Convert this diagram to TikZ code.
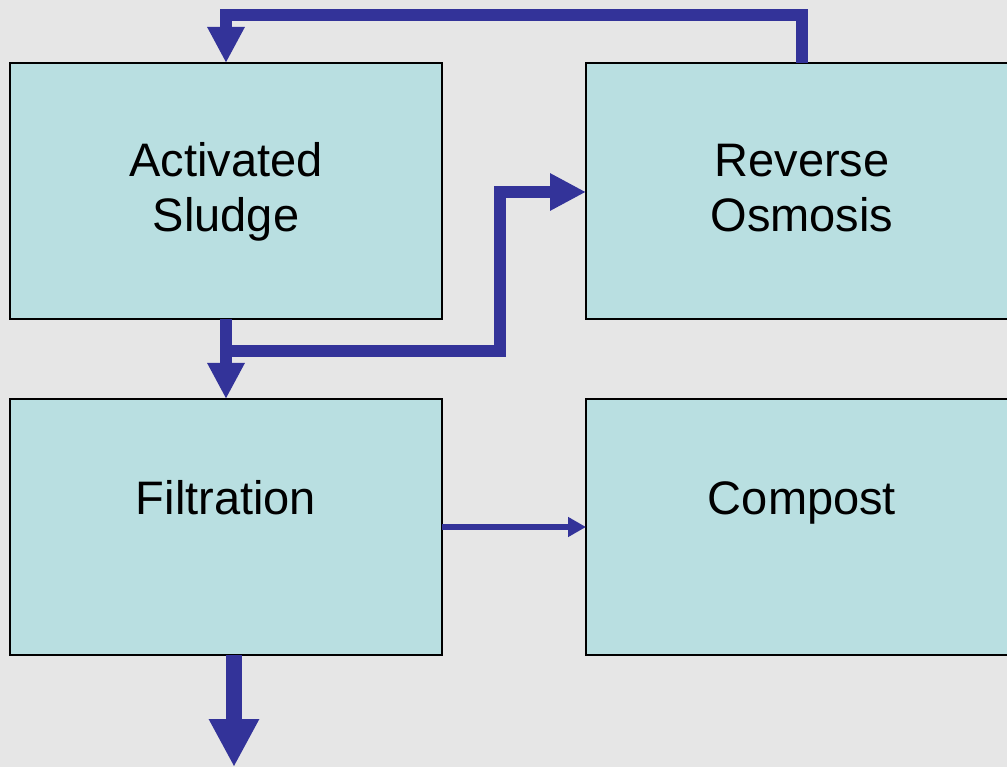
\documentclass[tikz,border=0pt]{standalone}
\usepackage{fontspec}
\setmainfont{Liberation Sans}
\usetikzlibrary{arrows.meta}
\definecolor{bg}{HTML}{E6E6E6}
\definecolor{boxfill}{HTML}{B9DFE1}
\definecolor{flow}{HTML}{333399}
\begin{document}
\begin{tikzpicture}[x=1pt,y=-1pt,
  box/.style={draw=black,line width=1.5pt,fill=boxfill,minimum width=432pt,minimum height=256pt,inner sep=0pt,outer sep=0pt},
  lbl/.style={font=\fontsize{47}{55}\selectfont,align=center,anchor=base,inner sep=0pt},
  thick flow/.style={draw=flow,line width=12pt,line join=miter,-{Triangle[length=36pt,width=35pt]}},
  thin flow/.style={draw=flow,line width=6pt,-{Triangle[length=18pt,width=19pt]}},
  big flow/.style={draw=flow,line width=16pt,-{Triangle[length=48pt,width=47pt]}}]
\fill[bg] (0,0) rectangle (1007,767);
\useasboundingbox (0,0) rectangle (1007,767);
\begin{scope}
\clip (0,0) rectangle (1007,767);
\node[box] (as) at (226,191) {};
\node[box] (ro) at (802,191) {};
\node[box] (fi) at (226,527) {};
\node[box] (co) at (802,527) {};
\end{scope}
\node[lbl] (asl) at (226,232) {Activated\\Sludge};
\node[lbl] (rol) at (802,232) {Reverse\\Osmosis};
\node[lbl] (fil) at (226,514) {Filtration};
\node[lbl] (col) at (802,514) {Compost};
% recycle from reverse osmosis to activated sludge
\draw[thick flow] (ro.north) -- ++(0,-48) -| (as.north);
% activated sludge to filtration
\draw[thick flow] (as.south) -- (fi.north);
% branch to reverse osmosis
\coordinate (split) at (232,351);
\draw[thick flow] (split) -- (500,351) -- (500,192) -- (ro.west |- 0,192);
% filtration to compost
\draw[thin flow] (fi.east) -- (co.west);
% output
\coordinate (out) at (234,767);
\draw[big flow] ([xshift=8pt]fi.south) -- (out);
\end{tikzpicture}
\end{document}
